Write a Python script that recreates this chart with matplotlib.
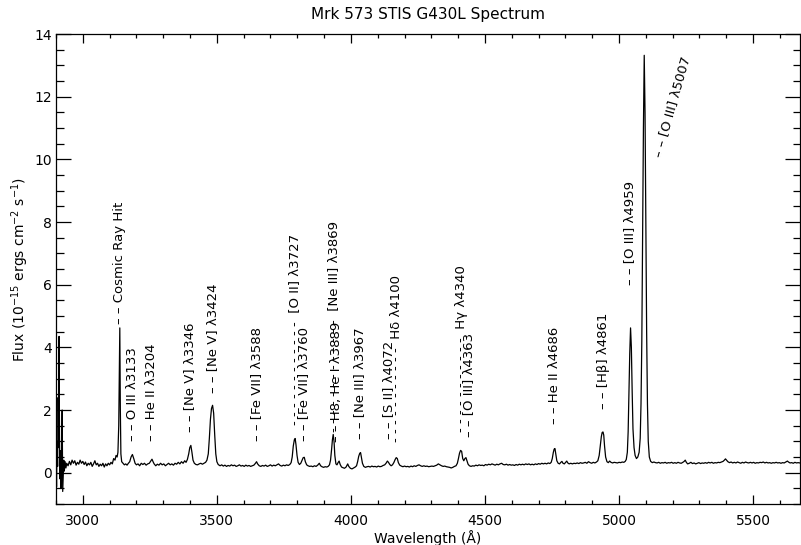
import numpy as np
import matplotlib
matplotlib.use("Agg")
import matplotlib.pyplot as plt
from matplotlib.ticker import MultipleLocator

# ---------------- data ----------------
wavelength = [
    2900, 2902, 2904, 2906, 2908, 2910, 2911.5, 2913, 2915, 2917,
    2919, 2921, 2923, 2925, 2927, 2929, 2931, 2934, 2937, 2940,
    2945, 2950, 2955, 2960, 2965, 2970, 2975, 2980, 2985, 2990,
    2995, 3000, 3005, 3010, 3015, 3020, 3025, 3030, 3035, 3040,
    3045, 3050, 3055, 3060, 3065, 3070, 3075, 3080, 3085, 3090,
    3095, 3100, 3105, 3110, 3115, 3120, 3124, 3128, 3131, 3134,
    3136, 3138, 3140, 3142, 3145, 3150, 3155, 3160, 3165, 3170,
    3175, 3180, 3185, 3190, 3195, 3200, 3206, 3212, 3218, 3224,
    3230, 3236, 3242, 3248, 3254, 3258, 3262, 3266, 3272, 3278,
    3284, 3290, 3296, 3302, 3308, 3314, 3320, 3326, 3332, 3338,
    3344, 3350, 3356, 3362, 3368, 3374, 3380, 3385, 3390, 3395,
    3399, 3403, 3407, 3411, 3416, 3422, 3428, 3434, 3440, 3446,
    3452, 3458, 3463, 3468, 3472, 3476, 3480, 3484, 3488, 3492,
    3496, 3500, 3505, 3512, 3518, 3524, 3530, 3536, 3542, 3548,
    3554, 3560, 3566, 3572, 3578, 3584, 3590, 3596, 3602, 3608,
    3614, 3620, 3626, 3632, 3638, 3644, 3648, 3652, 3658, 3664,
    3670, 3676, 3682, 3688, 3694, 3700, 3706, 3712, 3718, 3724,
    3730, 3736, 3742, 3748, 3754, 3760, 3766, 3772, 3777, 3781,
    3785, 3789, 3792, 3795, 3799, 3803, 3808, 3813, 3818, 3822,
    3826, 3830, 3835, 3840, 3846, 3852, 3858, 3864, 3870, 3876,
    3882, 3887, 3892, 3898, 3904, 3910, 3915, 3920, 3924, 3928,
    3931, 3934, 3937, 3940, 3944, 3948, 3952, 3956, 3960, 3965,
    3970, 3976, 3982, 3988, 3992, 3998, 4004, 4010, 4016, 4021,
    4025, 4029, 4033, 4036, 4039, 4043, 4048, 4054, 4060, 4066,
    4072, 4078, 4084, 4090, 4096, 4102, 4108, 4114, 4120, 4126,
    4131, 4136, 4140, 4145, 4150, 4155, 4160, 4165, 4169, 4173,
    4177, 4182, 4188, 4194, 4200, 4206, 4212, 4218, 4224, 4230,
    4236, 4242, 4248, 4254, 4260, 4266, 4272, 4278, 4284, 4290,
    4296, 4302, 4308, 4314, 4320, 4326, 4332, 4338, 4344, 4350,
    4356, 4362, 4368, 4374, 4380, 4386, 4392, 4397, 4401, 4405,
    4409, 4413, 4417, 4421, 4425, 4429, 4433, 4437, 4442, 4448,
    4454, 4460, 4466, 4472, 4478, 4484, 4490, 4496, 4502, 4508,
    4514, 4520, 4526, 4532, 4538, 4544, 4550, 4556, 4562, 4568,
    4574, 4580, 4586, 4592, 4598, 4604, 4610, 4616, 4622, 4628,
    4634, 4640, 4646, 4652, 4658, 4664, 4670, 4676, 4682, 4688,
    4694, 4700, 4706, 4712, 4718, 4724, 4730, 4736, 4742, 4747,
    4751, 4755, 4758, 4761, 4764, 4768, 4773, 4778, 4783, 4787,
    4791, 4796, 4801, 4805, 4809, 4814, 4820, 4826, 4832, 4838,
    4844, 4850, 4856, 4862, 4868, 4874, 4880, 4886, 4892, 4898,
    4904, 4910, 4916, 4921, 4926, 4930, 4934, 4937, 4940, 4943,
    4946, 4950, 4955, 4960, 4965, 4970, 4976, 4982, 4988, 4994,
    5000, 5006, 5012, 5018, 5023, 5027, 5031, 5034, 5037, 5040,
    5043, 5046, 5049, 5052, 5056, 5060, 5065, 5070, 5075, 5079,
    5082, 5085, 5088, 5091, 5094, 5097, 5100, 5103, 5106, 5109,
    5113, 5118, 5124, 5130, 5136, 5142, 5148, 5154, 5160, 5166,
    5172, 5178, 5184, 5190, 5196, 5202, 5208, 5214, 5220, 5226,
    5232, 5238, 5243, 5247, 5251, 5256, 5262, 5268, 5274, 5280,
    5286, 5292, 5298, 5304, 5310, 5316, 5322, 5328, 5334, 5340,
    5346, 5352, 5358, 5364, 5370, 5376, 5382, 5388, 5393, 5397,
    5401, 5406, 5412, 5418, 5424, 5430, 5436, 5442, 5448, 5454,
    5460, 5466, 5472, 5478, 5484, 5490, 5496, 5502, 5508, 5514,
    5520, 5526, 5532, 5538, 5544, 5550, 5556, 5562, 5568, 5574,
    5580, 5586, 5592, 5598, 5604, 5610, 5616, 5622, 5628, 5632,
    5638, 5644, 5650, 5656, 5662, 5668, 5674, 5680, 5686,
]

flux = [
    0.60, -0.45, 1.00, 0.20, 2.40, 0.80, 4.35, 1.20, -0.20, 0.70,
    -0.50, 0.50, 2.00, -0.60, -0.10, 0.40, 0.05, 0.35, 0.15, 0.30,
    0.22, 0.36, 0.25, 0.40, 0.30, 0.38, 0.24, 0.33, 0.27, 0.40,
    0.30, 0.36, 0.26, 0.34, 0.22, 0.30, 0.25, 0.33, 0.20, 0.28,
    0.38, 0.25, 0.30, 0.20, 0.27, 0.22, 0.30, 0.18, 0.28, 0.22,
    0.30, 0.25, 0.33, 0.28, 0.45, 0.40, 0.55, 0.50, 0.65, 1.50,
    3.20, 4.62, 2.00, 0.60, 0.35, 0.30, 0.25, 0.28, 0.24, 0.30,
    0.35, 0.50, 0.58, 0.45, 0.30, 0.25, 0.28, 0.22, 0.30, 0.26,
    0.30, 0.24, 0.28, 0.30, 0.38, 0.43, 0.35, 0.28, 0.22, 0.27,
    0.24, 0.30, 0.25, 0.28, 0.22, 0.26, 0.30, 0.25, 0.28, 0.24,
    0.30, 0.27, 0.33, 0.28, 0.35, 0.30, 0.38, 0.33, 0.42, 0.60,
    0.80, 0.87, 0.65, 0.40, 0.30, 0.26, 0.25, 0.28, 0.30, 0.27,
    0.30, 0.33, 0.40, 0.60, 1.10, 1.70, 2.05, 2.15, 1.90, 1.20,
    0.60, 0.35, 0.26, 0.22, 0.25, 0.21, 0.24, 0.20, 0.23, 0.21,
    0.25, 0.22, 0.24, 0.20, 0.22, 0.25, 0.21, 0.23, 0.20, 0.24,
    0.21, 0.23, 0.20, 0.22, 0.24, 0.30, 0.35, 0.28, 0.22, 0.20,
    0.23, 0.21, 0.24, 0.20, 0.22, 0.25, 0.21, 0.24, 0.22, 0.25,
    0.28, 0.23, 0.21, 0.24, 0.22, 0.25, 0.23, 0.26, 0.32, 0.50,
    0.85, 1.05, 1.09, 0.90, 0.55, 0.33, 0.26, 0.30, 0.40, 0.48,
    0.49, 0.35, 0.25, 0.22, 0.20, 0.21, 0.19, 0.22, 0.20, 0.24,
    0.30, 0.22, 0.19, 0.17, 0.19, 0.18, 0.20, 0.25, 0.40, 0.75,
    1.05, 1.22, 1.00, 0.55, 0.28, 0.25, 0.32, 0.37, 0.26, 0.18,
    0.16, 0.14, 0.18, 0.28, 0.20, 0.14, 0.12, 0.15, 0.18, 0.22,
    0.35, 0.52, 0.62, 0.64, 0.50, 0.30, 0.20, 0.17, 0.19, 0.20,
    0.18, 0.21, 0.19, 0.20, 0.18, 0.21, 0.19, 0.20, 0.23, 0.25,
    0.30, 0.37, 0.33, 0.26, 0.22, 0.25, 0.32, 0.42, 0.48, 0.45,
    0.32, 0.24, 0.21, 0.19, 0.21, 0.19, 0.20, 0.18, 0.21, 0.19,
    0.22, 0.20, 0.23, 0.25, 0.22, 0.20, 0.22, 0.20, 0.21, 0.19,
    0.20, 0.21, 0.20, 0.22, 0.24, 0.28, 0.25, 0.22, 0.20, 0.21,
    0.19, 0.18, 0.17, 0.15, 0.17, 0.20, 0.22, 0.30, 0.45, 0.62,
    0.71, 0.68, 0.45, 0.38, 0.45, 0.48, 0.38, 0.27, 0.22, 0.20,
    0.22, 0.21, 0.24, 0.22, 0.25, 0.23, 0.24, 0.22, 0.26, 0.24,
    0.27, 0.25, 0.28, 0.26, 0.24, 0.27, 0.25, 0.28, 0.30, 0.26,
    0.25, 0.27, 0.24, 0.26, 0.24, 0.25, 0.23, 0.26, 0.24, 0.27,
    0.25, 0.27, 0.25, 0.28, 0.26, 0.28, 0.25, 0.27, 0.25, 0.28,
    0.26, 0.29, 0.27, 0.30, 0.28, 0.30, 0.28, 0.31, 0.29, 0.33,
    0.45, 0.65, 0.75, 0.77, 0.60, 0.38, 0.30, 0.28, 0.33, 0.36,
    0.30, 0.28, 0.33, 0.37, 0.31, 0.28, 0.30, 0.28, 0.30, 0.29,
    0.31, 0.29, 0.32, 0.30, 0.31, 0.33, 0.30, 0.35, 0.32, 0.30,
    0.33, 0.31, 0.34, 0.38, 0.55, 0.85, 1.15, 1.28, 1.30, 1.20,
    0.85, 0.50, 0.35, 0.32, 0.37, 0.33, 0.31, 0.33, 0.32, 0.31,
    0.33, 0.32, 0.34, 0.33, 0.36, 0.42, 0.65, 1.30, 2.50, 3.80,
    4.62, 4.00, 2.60, 1.40, 0.80, 0.55, 0.45, 0.50, 0.65, 1.10,
    2.20, 4.20, 7.50, 11.00, 13.32, 11.50, 8.00, 4.50, 2.20, 1.00,
    0.50, 0.36, 0.32, 0.34, 0.32, 0.31, 0.33, 0.30, 0.32, 0.31,
    0.33, 0.30, 0.32, 0.31, 0.33, 0.30, 0.32, 0.30, 0.33, 0.31,
    0.30, 0.33, 0.36, 0.40, 0.33, 0.28, 0.30, 0.33, 0.29, 0.31,
    0.28, 0.30, 0.32, 0.29, 0.31, 0.30, 0.32, 0.30, 0.33, 0.31,
    0.33, 0.30, 0.32, 0.31, 0.33, 0.32, 0.34, 0.36, 0.40, 0.44,
    0.40, 0.35, 0.32, 0.34, 0.31, 0.33, 0.31, 0.34, 0.32, 0.30,
    0.33, 0.31, 0.34, 0.32, 0.31, 0.33, 0.31, 0.33, 0.30, 0.32,
    0.31, 0.33, 0.32, 0.34, 0.31, 0.33, 0.31, 0.32, 0.30, 0.32,
    0.31, 0.33, 0.31, 0.32, 0.30, 0.32, 0.31, 0.34, 0.37, 0.34,
    0.31, 0.32, 0.30, 0.33, 0.31, 0.32, 0.31, 0.33, 0.32,
]

line_names = [
    "Cosmic Ray Hit", "O III λ3133", "He II λ3204", "[Ne V] λ3346",
    "[Ne V] λ3424", "[Fe VII] λ3588", "[O II] λ3727", "[Fe VII] λ3760",
    "[Ne III] λ3869", "H8, He I λ3889", "[Ne III] λ3967", "[S II] λ4072",
    "Hδ λ4100", "Hγ λ4340", "[O III] λ4363", "He II λ4686",
    "[Hβ] λ4861", "[O III] λ4959", "[O III] λ5007",
]
line_wave = [3138, 3185, 3256, 3399, 3484, 3648, 3791, 3825, 3934, 3947,
             4031, 4139, 4169, 4413, 4438, 4761, 4941, 5041, 5143]

title = "Mrk 573 STIS G430L Spectrum"
xlabel = "Wavelength (Å)"
ylabel = r"Flux (10$^{-15}$ ergs cm$^{-2}$ s$^{-1}$)"

# ---------------- layout / style ----------------
label_base = [4.73, 1.01, 1.01, 1.29, 2.53, 1.01, 1.51, 1.01, 1.29, 0.97,
              1.06, 1.06, 0.97, 1.29, 1.13, 1.54, 2.02, 6.0, 10.07]
label_ndash = [0, 0, 0, 0, 0, 0, 12, 0, 13, 0, 0, 0, 11, 11, 0, 0, 0, 0, 0]
label_rot = [90] * 18 + [74]

plt.rcParams['font.family'] = ['DejaVu Sans']
fig = plt.figure(figsize=(8.01, 5.45), dpi=100)
ax = fig.add_axes([56 / 801, 41 / 545, 744 / 801, 470 / 545])

ax.plot(wavelength, flux, color='black', lw=0.9)
ax.set_xlim(2900, 5675)
ax.set_ylim(-1, 14)

ax.xaxis.set_major_locator(MultipleLocator(500))
ax.xaxis.set_minor_locator(MultipleLocator(100))
ax.yaxis.set_major_locator(MultipleLocator(2))
ax.yaxis.set_minor_locator(MultipleLocator(0.5))
ax.tick_params(axis='both', which='both', direction='in', top=True, right=True,
               labelsize=10, color='black', width=0.9)
ax.tick_params(axis='x', which='major', length=6.5, pad=7)
ax.tick_params(axis='x', which='minor', length=3.2)
ax.tick_params(axis='y', which='major', length=10.8, pad=3)
ax.tick_params(axis='y', which='minor', length=5.4)
for s in ax.spines.values():
    s.set_linewidth(0.9)

ax.set_title(title, fontsize=11, pad=11)
ax.set_xlabel(xlabel, fontsize=10, labelpad=2)
ax.set_ylabel(ylabel, fontsize=10, labelpad=2)

for name, w, b, nd, rot in zip(line_names, line_wave, label_base, label_ndash, label_rot):
    if nd:
        txt = "- " * nd + " " + name
    else:
        txt = "– – " + name
    if rot == 90:
        ax.text(w, b, txt, rotation=90, ha='center', va='bottom', fontsize=9.5)
    else:
        ax.text(w, b, txt, rotation=rot, rotation_mode='anchor',
                ha='left', va='center', fontsize=9.5)

fig.savefig("out.png", dpi=100)
